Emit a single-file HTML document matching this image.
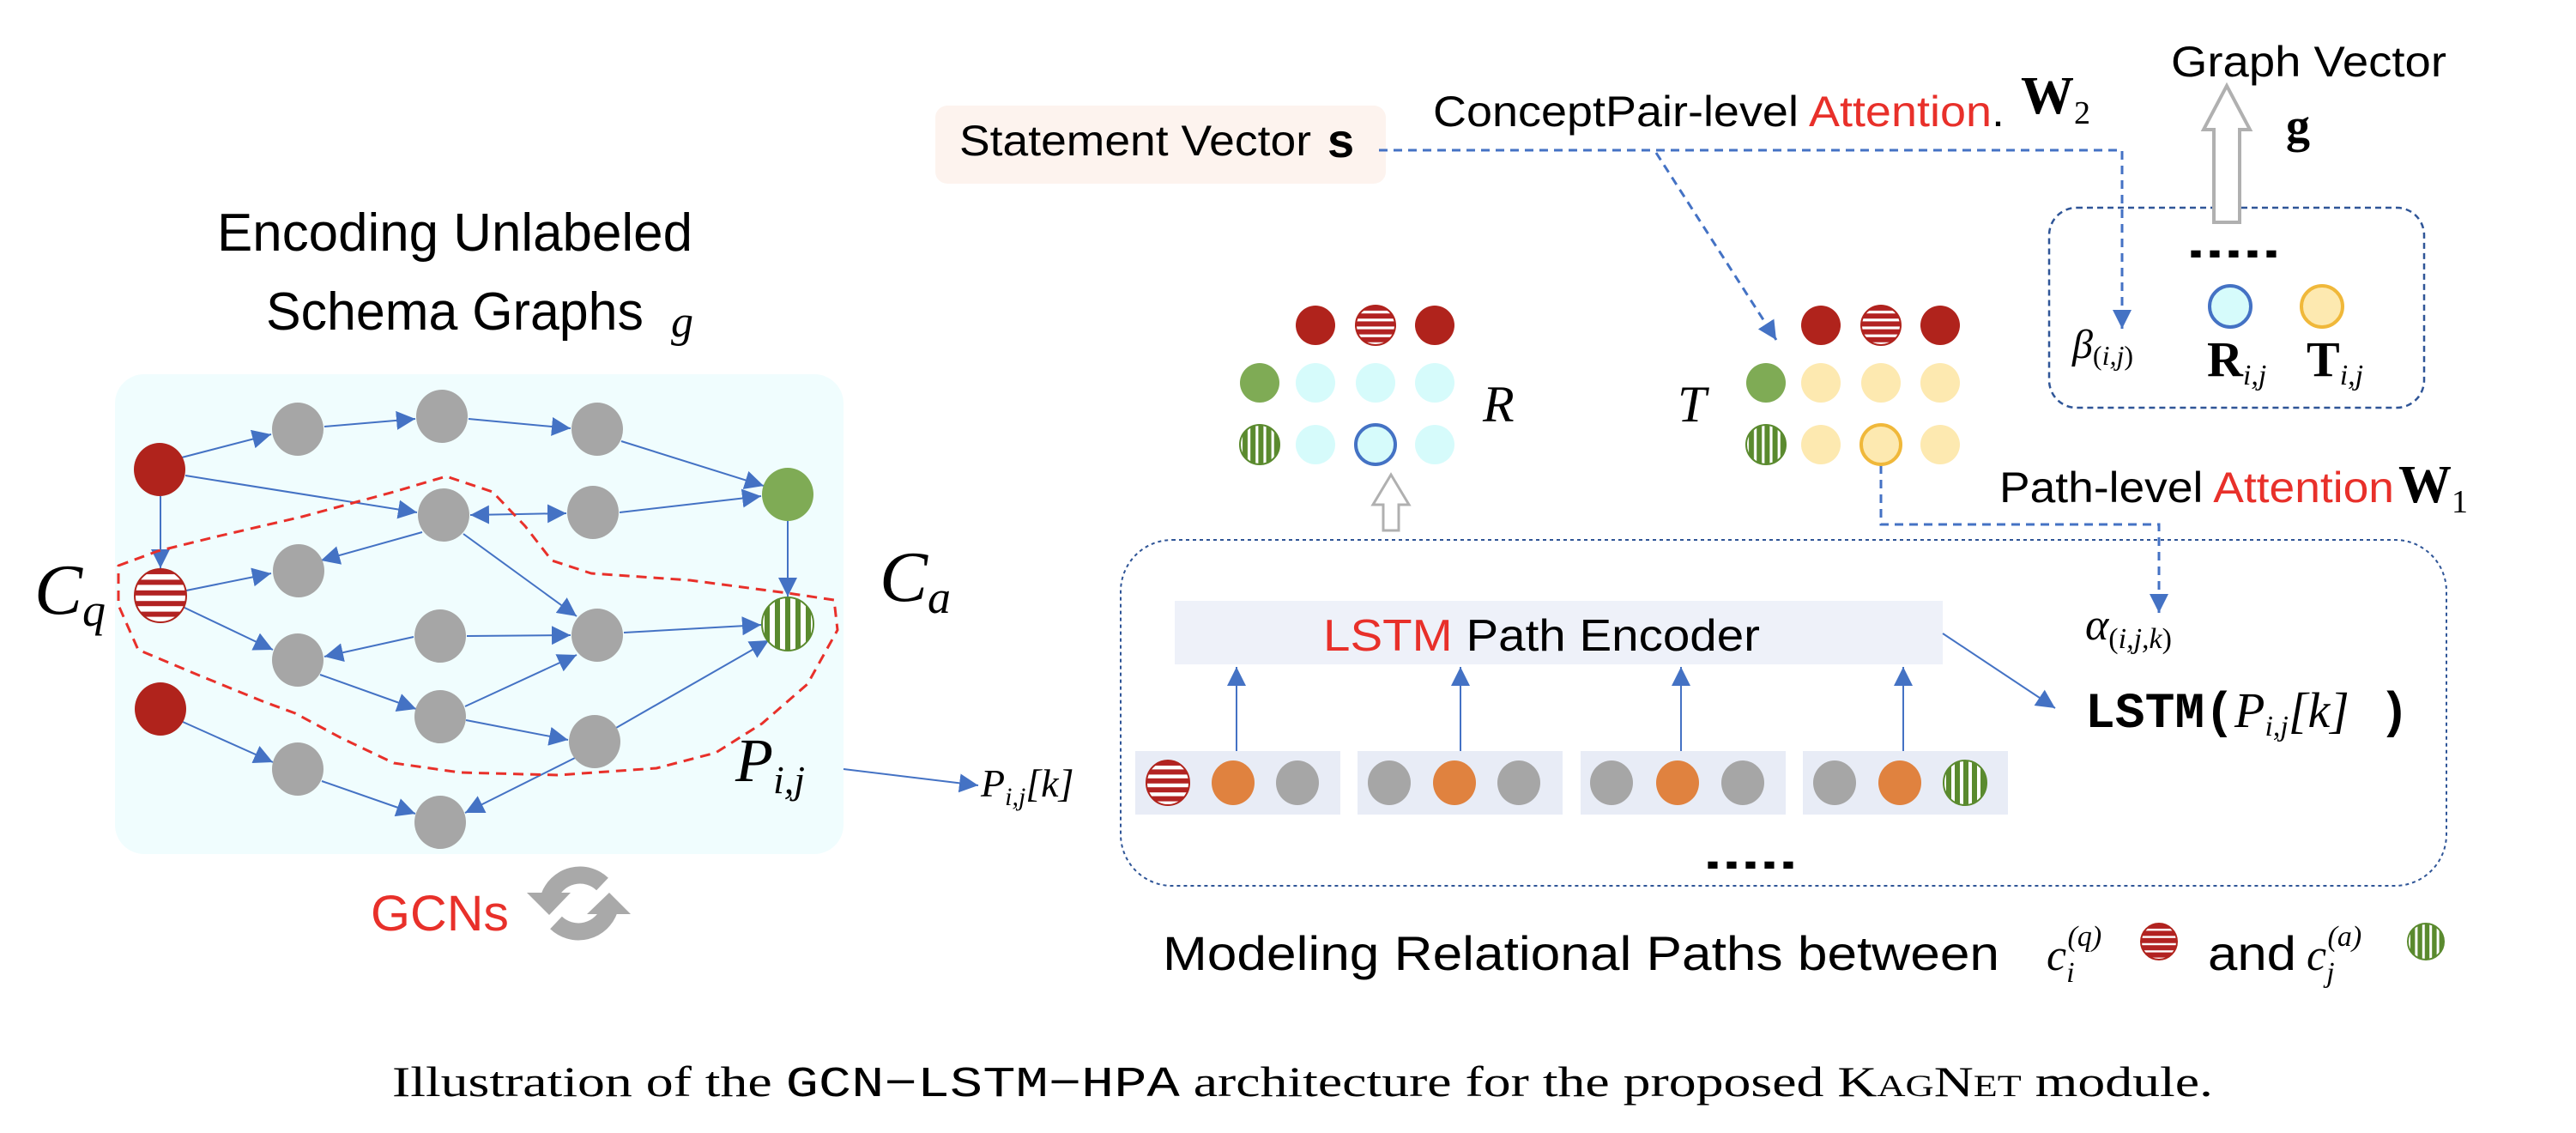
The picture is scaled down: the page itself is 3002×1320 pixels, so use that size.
<!DOCTYPE html>
<html><head><meta charset="utf-8"><style>
html,body{margin:0;padding:0;background:#fff}
svg{display:block}
.s{font-family:"Liberation Sans Narrow","Liberation Sans",sans-serif}
.m{font-family:"Liberation Serif",serif;font-style:italic}
.mono{font-family:"Liberation Mono",monospace}
</style></head><body>
<svg width="3002" height="1320" viewBox="0 0 3002 1320" xmlns="http://www.w3.org/2000/svg">
<defs>
<marker id="ah" viewBox="0 0 10 10" refX="10" refY="5" markerWidth="22" markerHeight="22" markerUnits="userSpaceOnUse" orient="auto"><path d="M0,0 L10,5 L0,10 z" fill="#4472c4"/></marker>
<pattern id="hs" patternUnits="objectBoundingBox" width="1" height="0.2" ><rect width="100" height="100" fill="#fff"/><rect width="100" height="6" y="0" fill="#b22222"/></pattern>
<pattern id="vs" patternUnits="objectBoundingBox" width="0.2" height="1"><rect width="100" height="100" fill="#fff"/><rect width="6" height="100" x="3" fill="#5a8a2e"/></pattern>
</defs>

<!-- graph box -->
<rect x="134" y="436" width="849" height="559" rx="34" fill="#f0fdfe"/>
<text class="s" x="253" y="292" font-size="62" textLength="554" lengthAdjust="spacingAndGlyphs">Encoding Unlabeled</text>
<text class="s" x="310" y="384" font-size="62" textLength="440" lengthAdjust="spacingAndGlyphs">Schema Graphs</text>
<text class="m" x="782" y="392" font-size="52">g</text>

<!-- edges -->
<g stroke="#4472c4" stroke-width="2" fill="none" marker-end="url(#ah)">
<line x1="208" y1="534" x2="316" y2="506"/>
<line x1="378" y1="497" x2="484" y2="488"/>
<line x1="546" y1="488" x2="665" y2="499"/>
<line x1="724" y1="514" x2="890" y2="566"/>
<line x1="216" y1="554" x2="486" y2="597"/>
<line x1="604" y1="599" x2="548" y2="600"/>
<line x1="604" y1="599" x2="660" y2="598"/>
<line x1="722" y1="597" x2="887" y2="578"/>
<line x1="918" y1="607" x2="918" y2="695"/>
<line x1="187" y1="578" x2="187" y2="662"/>
<line x1="492" y1="620" x2="374" y2="653"/>
<line x1="540" y1="622" x2="672" y2="718"/>
<line x1="217" y1="688" x2="316" y2="668"/>
<line x1="213" y1="707" x2="318" y2="757"/>
<line x1="482" y1="742" x2="378" y2="765"/>
<line x1="544" y1="741" x2="665" y2="740"/>
<line x1="727" y1="737" x2="887" y2="728"/>
<line x1="373" y1="786" x2="485" y2="826"/>
<line x1="542" y1="823" x2="672" y2="763"/>
<line x1="543" y1="839" x2="662" y2="862"/>
<line x1="718" y1="848" x2="896" y2="746"/>
<line x1="670" y1="883" x2="542" y2="947"/>
<line x1="213" y1="841" x2="318" y2="888"/>
<line x1="375" y1="910" x2="484" y2="948"/>
<line x1="983" y1="896" x2="1140" y2="915"/>
</g>

<!-- nodes -->
<g fill="#a6a6a6">
<ellipse cx="347" cy="500" rx="30" ry="31"/>
<ellipse cx="515" cy="485" rx="30" ry="31"/>
<ellipse cx="696" cy="500" rx="30" ry="31"/>
<ellipse cx="517" cy="600" rx="30" ry="31"/>
<ellipse cx="691" cy="597" rx="30" ry="31"/>
<ellipse cx="348" cy="665" rx="30" ry="31"/>
<ellipse cx="513" cy="741" rx="30" ry="31"/>
<ellipse cx="696" cy="740" rx="30" ry="31"/>
<ellipse cx="347" cy="769" rx="30" ry="31"/>
<ellipse cx="513" cy="835" rx="30" ry="31"/>
<ellipse cx="693" cy="864" rx="30" ry="31"/>
<ellipse cx="347" cy="896" rx="30" ry="31"/>
<ellipse cx="513" cy="958" rx="30" ry="31"/>
</g>
<ellipse cx="186" cy="547" rx="30" ry="31" fill="#b0231c"/>
<ellipse cx="187" cy="826" rx="30" ry="31" fill="#b0231c"/>
<ellipse cx="918" cy="576" rx="30" ry="31" fill="#7fab55"/>
<ellipse cx="187" cy="694" rx="30" ry="31" fill="url(#hs)" stroke="#b0231c" stroke-width="2"/>
<ellipse cx="918" cy="727" rx="30" ry="31" fill="url(#vs)" stroke="#5a8a2e" stroke-width="2"/>

<path d="M138,659 L184,642 L253,625 L352,602 L459,573 L520,555 L574,573 L612,613 L643,653 L689,668 L804,676 L918,691 L972,699 L976,734 L941,797 L888,843 L834,877 L765,895 L650,903 L536,900 L459,889 L398,860 L344,831 L306,817 L230,786 L161,757 L138,705 Z" fill="none" stroke="#e8302a" stroke-width="3" stroke-dasharray="12,8" stroke-linejoin="round"/>

<text class="m" x="40" y="715" font-size="84">C<tspan font-size="54" dy="14">q</tspan></text>
<text class="m" x="1025" y="700" font-size="84">C<tspan font-size="54" dy="14">a</tspan></text>
<text class="m" x="857" y="910" font-size="72">P<tspan font-size="46" dy="14">i,j</tspan></text>
<text class="m" x="1143" y="928" font-size="46">P<tspan font-size="30" dy="10">i,j</tspan><tspan dy="-10">[k]</tspan></text>

<text class="s" x="432" y="1084" font-size="58" fill="#e8302a" textLength="161" lengthAdjust="spacingAndGlyphs">GCNs</text>
<g fill="none" stroke="#a9a9a9" stroke-width="20">
<path d="M640,1045 A38,38 0 0 1 702,1030"/>
<path d="M710,1060 A38,38 0 0 1 648,1075"/>
</g>
<path d="M614,1040 L665,1040 L640,1066 Z" fill="#a9a9a9"/>
<path d="M735,1065 L684,1065 L710,1040 Z" fill="#a9a9a9"/>

<!-- Statement vector -->
<rect x="1090" y="123" width="525" height="91" rx="14" fill="#fdf3ee"/>
<text class="s" x="1118" y="181" font-size="50" textLength="410" lengthAdjust="spacingAndGlyphs">Statement Vector</text>
<text x="1547" y="183" font-size="56" font-family="Liberation Sans" font-weight="bold">s</text>
<text class="s" x="1670" y="147" font-size="50" textLength="666" lengthAdjust="spacingAndGlyphs">ConceptPair-level <tspan fill="#e8302a">Attention</tspan>.</text>
<text x="2355" y="132" font-size="62" font-family="Liberation Serif" font-weight="bold">W<tspan font-size="38" dy="12" font-weight="normal">2</tspan></text>
<text class="s" x="2530" y="89" font-size="50" textLength="321" lengthAdjust="spacingAndGlyphs">Graph Vector</text>
<text x="2664" y="165" font-size="56" font-family="Liberation Serif" font-weight="bold">g</text>

<g stroke="#4472c4" stroke-width="3" fill="none" stroke-dasharray="10,7">
<polyline points="1607,175 2473,175 2473,383" marker-end="url(#ah)"/>
<line x1="1930" y1="178" x2="2070" y2="396" marker-end="url(#ah)"/>
<polyline points="2192,542 2192,611 2516,611 2516,714" marker-end="url(#ah)"/>
</g>

<!-- graph vector box -->
<rect x="2388" y="242" width="437" height="233" rx="32" fill="none" stroke="#2f5597" stroke-width="2.5" stroke-dasharray="7,5"/>
<path d="M2580,259 L2580,151 L2568,151 L2595,100 L2622,151 L2610,151 L2610,259 Z" fill="#fff" stroke="#b0b0b0" stroke-width="4"/>
<text x="2548" y="300" font-size="56" font-family="Liberation Sans" font-weight="bold" textLength="110" lengthAdjust="spacingAndGlyphs">.....</text>
<circle cx="2599" cy="357" r="24" fill="#d6fbfb" stroke="#4472c4" stroke-width="4"/>
<circle cx="2706" cy="357" r="24" fill="#fde9b0" stroke="#f0b83a" stroke-width="4"/>
<text class="m" x="2415" y="417" font-size="48">β<tspan font-size="32" dy="8" font-style="normal">(</tspan><tspan font-size="32">i,j</tspan><tspan font-size="32" font-style="normal">)</tspan></text>
<text x="2572" y="438" font-size="58" font-family="Liberation Serif" font-weight="bold">R<tspan font-size="34" dy="10" font-weight="normal" font-style="italic">i,j</tspan></text>
<text x="2688" y="438" font-size="58" font-family="Liberation Serif" font-weight="bold">T<tspan font-size="34" dy="10" font-weight="normal" font-style="italic">i,j</tspan></text>

<!-- R matrix -->
<g>
<circle cx="1533" cy="379" r="23" fill="#b0231c"/>
<circle cx="1603" cy="379" r="23" fill="url(#hs)" stroke="#b0231c" stroke-width="2"/>
<circle cx="1672" cy="379" r="23" fill="#b0231c"/>
<circle cx="1468" cy="446" r="23" fill="#7fab55"/>
<circle cx="1533" cy="446" r="23" fill="#d6fbfb"/>
<circle cx="1603" cy="446" r="23" fill="#d6fbfb"/>
<circle cx="1672" cy="446" r="23" fill="#d6fbfb"/>
<circle cx="1468" cy="518" r="23" fill="url(#vs)" stroke="#5a8a2e" stroke-width="2"/>
<circle cx="1533" cy="518" r="23" fill="#d6fbfb"/>
<circle cx="1603" cy="518" r="23" fill="#d6fbfb" stroke="#4472c4" stroke-width="4"/>
<circle cx="1672" cy="518" r="23" fill="#d6fbfb"/>
</g>
<text class="m" x="1728" y="491" font-size="60">R</text>
<g>
<circle cx="2122" cy="379" r="23" fill="#b0231c"/>
<circle cx="2192" cy="379" r="23" fill="url(#hs)" stroke="#b0231c" stroke-width="2"/>
<circle cx="2261" cy="379" r="23" fill="#b0231c"/>
<circle cx="2058" cy="446" r="23" fill="#7fab55"/>
<circle cx="2122" cy="446" r="23" fill="#fde9b0"/>
<circle cx="2192" cy="446" r="23" fill="#fde9b0"/>
<circle cx="2261" cy="446" r="23" fill="#fde9b0"/>
<circle cx="2058" cy="518" r="23" fill="url(#vs)" stroke="#5a8a2e" stroke-width="2"/>
<circle cx="2122" cy="518" r="23" fill="#fde9b0"/>
<circle cx="2192" cy="518" r="23" fill="#fde9b0" stroke="#f0b83a" stroke-width="4"/>
<circle cx="2261" cy="518" r="23" fill="#fde9b0"/>
</g>
<text class="m" x="1955" y="491" font-size="60">T</text>
<path d="M1612,618 L1612,588 L1600,588 L1621,553 L1642,588 L1630,588 L1630,618 Z" fill="#fff" stroke="#b0b0b0" stroke-width="3"/>

<text class="s" x="2330" y="585" font-size="50" textLength="460" lengthAdjust="spacingAndGlyphs">Path-level <tspan fill="#e8302a">Attention</tspan></text>
<text x="2795" y="585" font-size="62" font-family="Liberation Serif" font-weight="bold">W<tspan font-size="38" dy="12" font-weight="normal">1</tspan></text>

<!-- big dotted box -->
<rect x="1306" y="629" width="1545" height="403" rx="60" fill="none" stroke="#2f5597" stroke-width="2" stroke-dasharray="4,4"/>
<rect x="1369" y="700" width="895" height="74" fill="#eef1f9"/>
<text class="s" x="1542" y="758" font-size="52" textLength="509" lengthAdjust="spacingAndGlyphs"><tspan fill="#e8302a">LSTM</tspan> Path Encoder</text>
<g stroke="#4472c4" stroke-width="2" marker-end="url(#ah)">
<line x1="1441" y1="875" x2="1441" y2="777"/>
<line x1="1702" y1="875" x2="1702" y2="777"/>
<line x1="1959" y1="875" x2="1959" y2="777"/>
<line x1="2218" y1="875" x2="2218" y2="777"/>
<line x1="2264" y1="738" x2="2395" y2="825"/>
</g>
<g fill="#e8ecf6">
<rect x="1323" y="875" width="239" height="74"/>
<rect x="1582" y="875" width="239" height="74"/>
<rect x="1842" y="875" width="239" height="74"/>
<rect x="2101" y="875" width="239" height="74"/>
</g>
<ellipse cx="1361" cy="912" rx="25" ry="26" fill="url(#hs)" stroke="#b0231c" stroke-width="2"/>
<g fill="#a6a6a6">
<ellipse cx="1512" cy="912" rx="25" ry="26"/><ellipse cx="1619" cy="912" rx="25" ry="26"/><ellipse cx="1770" cy="912" rx="25" ry="26"/>
<ellipse cx="1878" cy="912" rx="25" ry="26"/><ellipse cx="2031" cy="912" rx="25" ry="26"/><ellipse cx="2138" cy="912" rx="25" ry="26"/>
</g>
<g fill="#e0823f">
<ellipse cx="1437" cy="912" rx="25" ry="26"/><ellipse cx="1695" cy="912" rx="25" ry="26"/><ellipse cx="1955" cy="912" rx="25" ry="26"/><ellipse cx="2214" cy="912" rx="25" ry="26"/>
</g>
<ellipse cx="2290" cy="912" rx="25" ry="26" fill="url(#vs)" stroke="#5a8a2e" stroke-width="2"/>
<text x="1985" y="1012" font-size="56" font-family="Liberation Sans" font-weight="bold" textLength="110" lengthAdjust="spacingAndGlyphs">.....</text>

<text class="m" x="2430" y="745" font-size="52">α<tspan font-size="34" dy="10" font-style="normal">(</tspan><tspan font-size="34">i,j,k</tspan><tspan font-size="34" font-style="normal">)</tspan></text>
<text x="2430" y="847" font-size="58" font-family="Liberation Mono" font-weight="bold">LSTM(<tspan font-family="Liberation Serif" font-style="italic" font-weight="normal">P<tspan font-size="34" dy="10">i,j</tspan><tspan dy="-10">[k]</tspan></tspan> )</text>

<text class="s" x="1355" y="1130" font-size="56" textLength="975" lengthAdjust="spacingAndGlyphs">Modeling Relational Paths between</text>
<text class="m" x="2385" y="1130" font-size="52">c<tspan font-size="34" dy="14">i</tspan><tspan font-size="34" dx="-8" dy="-42">(q)</tspan></text>
<circle cx="2516" cy="1097" r="21" fill="url(#hs)" stroke="#b0231c" stroke-width="2"/>
<text class="s" x="2573" y="1130" font-size="56" textLength="103" lengthAdjust="spacingAndGlyphs">and</text>
<text class="m" x="2688" y="1130" font-size="52">c<tspan font-size="34" dy="14">j</tspan><tspan font-size="34" dx="-8" dy="-42">(a)</tspan></text>
<circle cx="2827" cy="1097" r="21" fill="url(#vs)" stroke="#5a8a2e" stroke-width="2"/>

<text x="457" y="1277" font-size="50" font-family="Liberation Serif" textLength="2122" lengthAdjust="spacingAndGlyphs">Illustration of the <tspan font-family="Liberation Mono">GCN−LSTM−HPA</tspan> architecture for the proposed K<tspan font-size="36">AG</tspan>N<tspan font-size="36">ET</tspan> module.</text>
</svg>
</body></html>
